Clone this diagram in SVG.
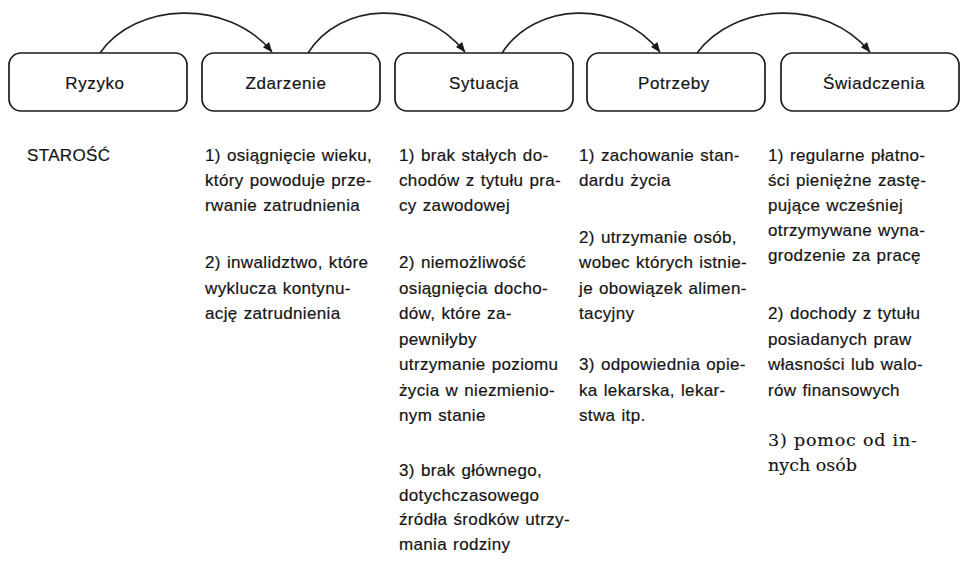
<svg xmlns="http://www.w3.org/2000/svg" width="960" height="561" viewBox="0 0 960 561">
<style>
.box{fill:#fff;stroke:#1a1a1a;stroke-width:1.7}
.lbl{font-family:"Liberation Sans",Arial,sans-serif;font-size:17px;fill:#151515;text-anchor:middle;letter-spacing:0.6px;stroke:#151515;stroke-width:0.2}
.t{font-family:"Liberation Sans",Arial,sans-serif;font-size:17px;fill:#151515;letter-spacing:0.35px;word-spacing:1px;stroke:#151515;stroke-width:0.2}
.s{font-family:"DejaVu Serif","Liberation Serif",serif;font-size:17.5px;fill:#151515;stroke:#151515;stroke-width:0.15}
.arc{fill:none;stroke:#222;stroke-width:1.6;marker-end:url(#ah)}
</style>
<defs>
<marker id="ah" viewBox="0 0 10 10" refX="9.5" refY="5" markerWidth="12" markerHeight="10" markerUnits="userSpaceOnUse" orient="auto">
<path d="M0,1 L10,5 L0,9 z" fill="#1a1a1a"/>
</marker>
</defs>
<rect width="960" height="561" fill="#fff"/>
<g id="connectors">
<path class="arc" d="M100 53 C135 2 228 -2 272 52"/>
<path class="arc" d="M308 53 C340 2 422 -2 465 52"/>
<path class="arc" d="M502 53 C535 2 618 -2 660 52"/>
<path class="arc" d="M697 53 C735 2 826 -2 870 52"/>
</g>
<g id="ryzyko"><rect class="box" x="9" y="53" width="178" height="58" rx="12"/><text class="lbl" x="95" y="89">Ryzyko</text></g>
<g id="zdarzenie"><rect class="box" x="202" y="53" width="178" height="58" rx="12"/><text class="lbl" x="286" y="89">Zdarzenie</text></g>
<g id="sytuacja"><rect class="box" x="395" y="53" width="178" height="58" rx="12"/><text class="lbl" x="484" y="89">Sytuacja</text></g>
<g id="potrzeby"><rect class="box" x="587" y="53" width="178" height="58" rx="12"/><text class="lbl" x="674" y="89">Potrzeby</text></g>
<g id="swiadczenia"><rect class="box" x="781" y="53" width="178" height="58" rx="12"/><text class="lbl" x="874" y="89">Świadczenia</text></g>
<g id="col-ryzyko"><text class="t" x="27" y="161">STAROŚĆ</text></g>
<g id="col-zdarzenie">
<text class="t"><tspan x="205" y="161">1) osiągnięcie wieku,</tspan><tspan x="205" y="186">który powoduje prze-</tspan><tspan x="205" y="211">rwanie zatrudnienia</tspan></text>
<text class="t"><tspan x="205" y="268">2) inwalidztwo, które</tspan><tspan x="205" y="293.5">wyklucza kontynu-</tspan><tspan x="205" y="319">ację zatrudnienia</tspan></text>
</g>
<g id="col-sytuacja">
<text class="t"><tspan x="399" y="161">1) brak stałych do-</tspan><tspan x="399" y="186">chodów z tytułu pra-</tspan><tspan x="399" y="211">cy zawodowej</tspan></text>
<text class="t"><tspan x="399" y="268">2) niemożliwość</tspan><tspan x="399" y="293.5">osiągnięcia docho-</tspan><tspan x="399" y="319">dów, które za-</tspan><tspan x="399" y="344.5">pewniłyby</tspan><tspan x="399" y="370">utrzymanie poziomu</tspan><tspan x="399" y="395.5">życia w niezmienio-</tspan><tspan x="399" y="421">nym stanie</tspan></text>
<text class="t"><tspan x="399" y="476">3) brak głównego,</tspan><tspan x="399" y="500.7">dotychczasowego</tspan><tspan x="399" y="525.4">źródła środków utrzy-</tspan><tspan x="399" y="550">mania rodziny</tspan></text>
</g>
<g id="col-potrzeby">
<text class="t"><tspan x="579" y="161">1) zachowanie stan-</tspan><tspan x="579" y="186">dardu życia</tspan></text>
<text class="t"><tspan x="579" y="243">2) utrzymanie osób,</tspan><tspan x="579" y="268">wobec których istnie-</tspan><tspan x="579" y="293.5">je obowiązek alimen-</tspan><tspan x="579" y="319">tacyjny</tspan></text>
<text class="t"><tspan x="579" y="370">3) odpowiednia opie-</tspan><tspan x="579" y="395.5">ka lekarska, lekar-</tspan><tspan x="579" y="421">stwa itp.</tspan></text>
</g>
<g id="col-swiadczenia">
<text class="t"><tspan x="768" y="161">1) regularne płatno-</tspan><tspan x="768" y="186">ści pieniężne zastę-</tspan><tspan x="768" y="211">pujące wcześniej</tspan><tspan x="768" y="236">otrzymywane wyna-</tspan><tspan x="768" y="261">grodzenie za pracę</tspan></text>
<text class="t"><tspan x="768" y="319">2) dochody z tytułu</tspan><tspan x="768" y="344.5">posiadanych praw</tspan><tspan x="768" y="370">własności lub walo-</tspan><tspan x="768" y="395.5">rów finansowych</tspan></text>
<text class="s"><tspan x="768" y="446" textLength="149" lengthAdjust="spacing">3) pomoc od in-</tspan><tspan x="768" y="471">nych osób</tspan></text>
</g>
</svg>
